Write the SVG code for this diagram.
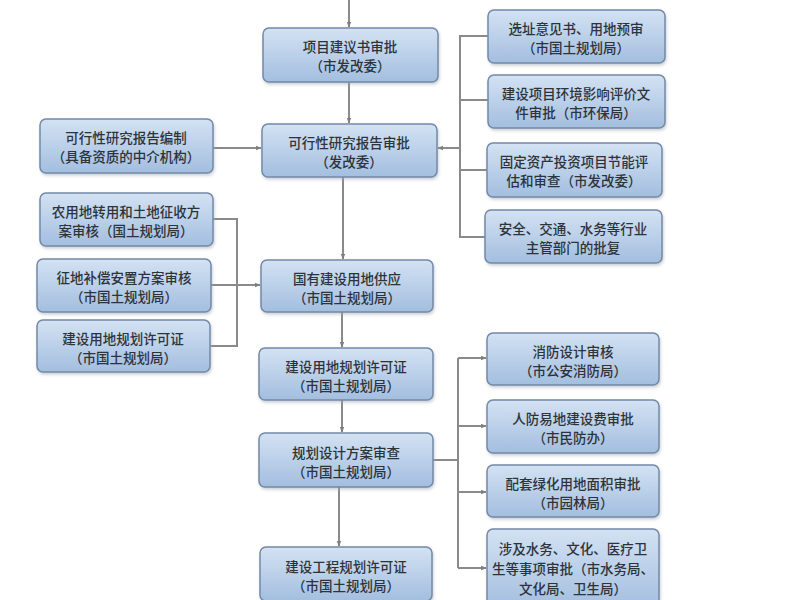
<svg xmlns="http://www.w3.org/2000/svg" width="800" height="600" viewBox="0 0 800 600">
<defs>
<linearGradient id="g" x1="0" y1="0" x2="0" y2="1">
<stop offset="0" stop-color="#d3e2f3"/>
<stop offset="1" stop-color="#a3bedf"/>
</linearGradient>
<filter id="sh" x="-10%" y="-10%" width="120%" height="130%">
<feDropShadow dx="1" dy="2" stdDeviation="1.5" flood-color="#9aa4b0" flood-opacity="0.5"/>
</filter>
<marker id="ah" viewBox="0 0 10 10" refX="9" refY="5" markerWidth="6" markerHeight="6" orient="auto" markerUnits="userSpaceOnUse">
<path d="M0,1 L10,5 L0,9 Z" fill="#7f7f7f"/>
</marker>
</defs>
<style>
.box{fill:url(#g);stroke:#7389a6;stroke-width:1.5;filter:url(#sh)}
.t{font-family:"Noto Sans CJK SC","Noto Sans",sans-serif;font-size:13.5px;font-weight:500;fill:#2e333a;text-anchor:middle}
.ln{fill:none;stroke:#8a8a8a;stroke-width:2}
.ar{fill:none;stroke:#8a8a8a;stroke-width:2;marker-end:url(#ah)}
</style>
<rect width="800" height="600" fill="#ffffff"/>

<g id="connectors">
<path class="ar" d="M349,0 V27"/>
<path class="ar" d="M349,82 V123"/>
<path class="ar" d="M343,177 V259"/>
<path class="ar" d="M342,312 V347"/>
<path class="ar" d="M342,400 V432"/>
<path class="ar" d="M339,487 V546"/>
<path class="ar" d="M213,148 H261"/>
<path class="ln" d="M213,219 H237 V346 H210"/>
<path class="ar" d="M211,285 H260"/>
<path class="ln" d="M488,36 H460 V237 H485"/>
<path class="ln" d="M460,100 H488"/>
<path class="ln" d="M460,170 H487"/>
<path class="ar" d="M460,148 H438"/>
<path class="ln" d="M433,460 H458"/>
<path class="ln" d="M458,358 V568"/>
<path class="ar" d="M458,358 H486"/>
<path class="ar" d="M458,426 H486"/>
<path class="ar" d="M458,492 H486"/>
<path class="ar" d="M458,568 H486"/>
</g>

<g id="c1"><rect class="box" x="263" y="28" width="175" height="54" rx="6"/>
<text class="t" x="350" y="52">项目建议书审批</text><text class="t" x="350" y="71">（市发改委）</text></g>
<g id="c2"><rect class="box" x="262" y="124" width="175" height="53" rx="6"/>
<text class="t" x="349" y="148">可行性研究报告审批</text><text class="t" x="349" y="167">（发改委）</text></g>
<g id="c3"><rect class="box" x="261" y="260" width="172" height="52" rx="6"/>
<text class="t" x="347" y="284">国有建设用地供应</text><text class="t" x="347" y="303">（市国土规划局）</text></g>
<g id="c4"><rect class="box" x="259" y="348" width="174" height="52" rx="6"/>
<text class="t" x="346" y="372">建设用地规划许可证</text><text class="t" x="346" y="391">（市国土规划局）</text></g>
<g id="c5"><rect class="box" x="259" y="433" width="174" height="54" rx="6"/>
<text class="t" x="346" y="458">规划设计方案审查</text><text class="t" x="346" y="477">（市国土规划局）</text></g>
<g id="c6"><rect class="box" x="260" y="547" width="172" height="54" rx="6"/>
<text class="t" x="346" y="572">建设工程规划许可证</text><text class="t" x="346" y="591">（市国土规划局）</text></g>

<g id="l1"><rect class="box" x="40" y="119" width="173" height="54" rx="6"/>
<text class="t" x="126" y="143">可行性研究报告编制</text><text class="t" x="126" y="162">（具备资质的中介机构）</text></g>
<g id="l2"><rect class="box" x="40" y="193" width="173" height="53" rx="6"/>
<text class="t" x="126" y="217">农用地转用和土地征收方</text><text class="t" x="126" y="236">案审核（国土规划局）</text></g>
<g id="l3"><rect class="box" x="37" y="259" width="174" height="53" rx="6"/>
<text class="t" x="124" y="283">征地补偿安置方案审核</text><text class="t" x="124" y="302">（市国土规划局）</text></g>
<g id="l4"><rect class="box" x="37" y="320" width="173" height="52" rx="6"/>
<text class="t" x="123" y="344">建设用地规划许可证</text><text class="t" x="123" y="363">（市国土规划局）</text></g>

<g id="r1"><rect class="box" x="488" y="10" width="177" height="53" rx="6"/>
<text class="t" x="576" y="34">选址意见书、用地预审</text><text class="t" x="576" y="53">（市国土规划局）</text></g>
<g id="r2"><rect class="box" x="488" y="75" width="177" height="53" rx="6"/>
<text class="t" x="576" y="99">建设项目环境影响评价文</text><text class="t" x="576" y="118">件审批（市环保局）</text></g>
<g id="r3"><rect class="box" x="487" y="143" width="175" height="54" rx="6"/>
<text class="t" x="574" y="167">固定资产投资项目节能评</text><text class="t" x="574" y="186">估和审查（市发改委）</text></g>
<g id="r4"><rect class="box" x="485" y="210" width="177" height="53" rx="6"/>
<text class="t" x="573" y="234">安全、交通、水务等行业</text><text class="t" x="573" y="253">主管部门的批复</text></g>

<g id="r5"><rect class="box" x="487" y="333" width="172" height="52" rx="6"/>
<text class="t" x="573" y="357">消防设计审核</text><text class="t" x="573" y="376">（市公安消防局）</text></g>
<g id="r6"><rect class="box" x="487" y="400" width="172" height="53" rx="6"/>
<text class="t" x="573" y="424">人防易地建设费审批</text><text class="t" x="573" y="443">（市民防办）</text></g>
<g id="r7"><rect class="box" x="487" y="465" width="172" height="52" rx="6"/>
<text class="t" x="573" y="489">配套绿化用地面积审批</text><text class="t" x="573" y="508">（市园林局）</text></g>
<g id="r8"><rect class="box" x="487" y="529" width="172" height="80" rx="6"/>
<text class="t" x="573" y="554">涉及水务、文化、医疗卫</text><text class="t" x="573" y="574">生等事项审批（市水务局、</text><text class="t" x="573" y="594">文化局、卫生局）</text></g>
</svg>
